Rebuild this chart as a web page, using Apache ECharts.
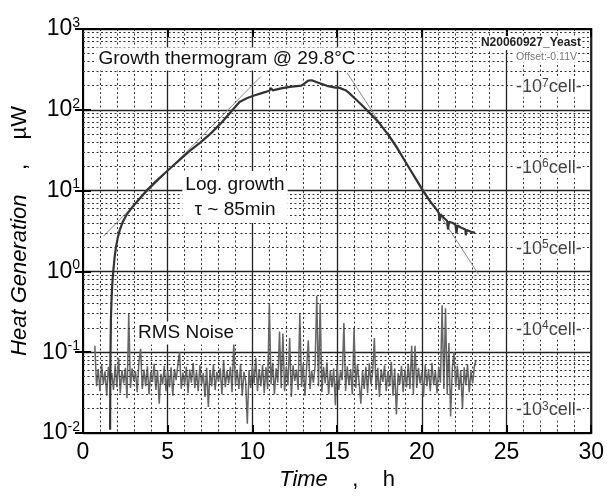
<!DOCTYPE html>
<html>
<head>
<meta charset="utf-8">
<script src="https://cdn.jsdelivr.net/npm/echarts@6/dist/echarts.min.js"></script>
<style>
  html, body { margin: 0; background: #fff; }
  #chart { width: 607px; height: 496px; }
</style>
</head>
<body>
<div id="chart"></div>
<script>
// heat curve [time h, heat µW]
const growthCurve = [
  [1.60, 0.011], [1.62, 0.09], [1.65, 0.26], [1.69, 0.48], [1.73, 0.7], [1.78, 0.97],
  [1.86, 1.45], [1.94, 1.95], [2.05, 2.6], [2.18, 3.3], [2.35, 4.1], [2.57, 5.0],
  [3.0, 6.6], [3.5, 8.7], [3.75, 10], [4.3, 13], [5.1, 18.5], [5.7, 24], [6.3, 31],
  [6.9, 39], [7.5, 50], [8.2, 70], [8.8, 98], [9.24, 125], [9.7, 140], [10.1, 150],
  [10.6, 162], [11.0, 172], [11.1, 186], [11.2, 174], [11.7, 184], [12.2, 192],
  [12.9, 199], [13.1, 214], [13.3, 230], [13.5, 232], [13.9, 216], [14.4, 198],
  [14.9, 188], [15.1, 188], [15.5, 175], [15.7, 162], [16.1, 135], [16.5, 112],
  [17.1, 84], [17.5, 68], [18.06, 48], [18.5, 35], [19.04, 22.6], [19.6, 14.5],
  [20.1, 9.7], [20.5, 7.3], [20.8, 6.1], [21.0, 5.3], [21.05, 4.2], [21.1, 5.1],
  [21.3, 4.6], [21.5, 4.2], [21.55, 3.3], [21.6, 4.1], [21.8, 4.0], [21.98, 3.8],
  [22.05, 3.0], [22.1, 3.7], [22.3, 3.5], [22.57, 3.3], [22.6, 2.8], [22.65, 3.25],
  [22.9, 3.1], [23.15, 3.0]
];

// thin fitted lines
const riseFit = [[1.2, 2.72], [10.5, 258]];
const declineFit = [[15.6, 285], [23.35, 0.92]];

// RMS noise trace, one value every 0.1 h from 0.7 h
const noiseStart = 0.7;
const noiseStep = 0.1;
const noiseValues = [
  0.12, 0.038, 0.062, 0.033, 0.071, 0.04, 0.058, 0.029, 0.066, 0.042,
  0.055, 0.034, 0.069, 0.037, 0.085, 0.031, 0.06, 0.041, 0.064, 0.027,
  0.3, 0.036, 0.063, 0.044, 0.058, 0.032, 0.075, 0.11, 0.035, 0.061,
  0.038, 0.067, 0.03, 0.057, 0.043, 0.072, 0.034, 0.06, 0.023, 0.054,
  0.04, 0.068, 0.033, 0.059, 0.037, 0.065, 0.029, 0.062, 0.045, 0.07,
  0.1, 0.035, 0.056, 0.039, 0.066, 0.031, 0.061, 0.042, 0.074, 0.036,
  0.058, 0.033, 0.069, 0.04, 0.055, 0.028, 0.064, 0.021, 0.06, 0.038,
  0.071, 0.034, 0.057, 0.043, 0.063, 0.03, 0.078, 0.037, 0.059, 0.041,
  0.066, 0.032, 0.13, 0.039, 0.061, 0.035, 0.072, 0.029, 0.057, 0.044,
  0.013, 0.06, 0.036, 0.068, 0.041, 0.085, 0.033, 0.062, 0.038, 0.07,
  0.031, 0.065, 0.035, 0.4, 0.04, 0.074, 0.03, 0.063, 0.042, 0.18,
  0.036, 0.17, 0.033, 0.066, 0.039, 0.15, 0.028, 0.069, 0.044, 0.061,
  0.034, 0.3, 0.037, 0.072, 0.029, 0.064, 0.14, 0.035, 0.059, 0.042,
  0.068, 0.5, 0.038, 0.4, 0.032, 0.066, 0.041, 0.075, 0.03, 0.06,
  0.037, 0.063, 0.022, 0.07, 0.034, 0.058, 0.045, 0.23, 0.033, 0.067,
  0.039, 0.062, 0.03, 0.2, 0.036, 0.071, 0.042, 0.023, 0.059, 0.035,
  0.066, 0.031, 0.073, 0.04, 0.057, 0.15, 0.034, 0.064, 0.028, 0.061,
  0.043, 0.069, 0.033, 0.058, 0.038, 0.076, 0.029, 0.063, 0.017, 0.055,
  0.04, 0.068, 0.032, 0.061, 0.037, 0.072, 0.035, 0.12, 0.03, 0.12,
  0.036, 0.064, 0.041, 0.057, 0.028, 0.07, 0.038, 0.062, 0.033, 0.074,
  0.039, 0.059, 0.031, 0.066, 0.042, 0.38, 0.035, 0.35, 0.03, 0.13,
  0.016, 0.063, 0.1, 0.037, 0.068, 0.034, 0.06, 0.02, 0.065, 0.039,
  0.071, 0.032, 0.058, 0.041, 0.066, 0.08
];

// cell count scale on the right (µW per cell)
const cellCounts = [1e3, 1e4, 1e5, 1e6, 1e7];
const wattPerCell = 1.9e-5;
const cellLabelTime = 27.5;

const FONT = '"Liberation Sans", Arial, sans-serif';

const noiseData = noiseValues.map((v, i) => [+(noiseStart + i * noiseStep).toFixed(2), v]);
const cellData = cellCounts.map(c => [cellLabelTime, c * wattPerCell, Math.round(Math.log10(c))]);

// dotted minor grid at 2..9 of each decade
const minorGrid = [];
[0.01, 0.1, 1, 10, 100].forEach(d => {
  for (let k = 2; k <= 9; k++) minorGrid.push({ yAxis: +(d * k).toPrecision(3) });
});

const dotted = { type: [2, 2.5], color: '#333', width: 1 };
const major = { type: 'solid', color: '#222', width: 1.3 };

const chart = echarts.init(document.getElementById('chart'));

chart.setOption({
  animation: false,
  backgroundColor: '#fff',
  grid: { left: 83, right: 14, top: 29, bottom: 59, show: true, borderColor: '#000', borderWidth: 2 },
  xAxis: [{
    type: 'value', min: 0, max: 30, interval: 5,
    axisLine: { lineStyle: { color: '#000', width: 2 } },
    axisTick: { inside: true, length: 8, lineStyle: { color: '#000', width: 2 } },
    axisLabel: { fontFamily: FONT, fontSize: 23, color: '#000', margin: 8 },
    splitLine: { show: true, lineStyle: major },
    minorTick: { show: false, splitNumber: 5 },
    minorSplitLine: { show: true, lineStyle: dotted },
    name: '{i|Time}    ,    {n|h}',
    nameLocation: 'middle', nameGap: 36,
    nameTextStyle: {
      rich: {
        i: { fontFamily: FONT, fontSize: 22, fontStyle: 'italic', color: '#000' },
        n: { fontFamily: FONT, fontSize: 22, color: '#000' }
      },
      fontFamily: FONT, fontSize: 22, color: '#000'
    }
  }, {
    type: 'value', min: 0, max: 30, interval: 5, position: 'top',
    axisLine: { lineStyle: { color: '#000', width: 2 } },
    axisTick: { inside: true, length: 8, lineStyle: { color: '#000', width: 2 } },
    axisLabel: { show: false },
    splitLine: { show: false }
  }],
  yAxis: [{
    type: 'log', logBase: 10, min: 0.01, max: 1000,
    axisLine: { show: true, lineStyle: { color: '#000', width: 2 } },
    axisTick: { show: true, inside: true, length: 8, lineStyle: { color: '#000', width: 2 } },
    axisLabel: {
      margin: 3,
      formatter: v => '{b|10}{s|' + Math.round(Math.log10(v)) + '}',
      rich: {
        b: { fontFamily: FONT, fontSize: 23, color: '#000', lineHeight: 26 },
        s: { fontFamily: FONT, fontSize: 14, color: '#000', verticalAlign: 'top' }
      }
    },
    splitLine: { show: true, lineStyle: major },
    name: '{i|Heat Generation}    ,    {n|µW}',
    nameLocation: 'middle', nameGap: 50, nameRotate: 90,
    nameTextStyle: {
      rich: {
        i: { fontFamily: FONT, fontSize: 22, fontStyle: 'italic', color: '#000' },
        n: { fontFamily: FONT, fontSize: 22, color: '#000' }
      },
      fontFamily: FONT, fontSize: 22, color: '#000'
    }
  }, {
    type: 'log', logBase: 10, min: 0.01, max: 1000, position: 'right',
    axisLine: { show: true, lineStyle: { color: '#000', width: 2 } },
    axisTick: { show: true, inside: true, length: 8, lineStyle: { color: '#000', width: 2 } },
    axisLabel: { show: false },
    splitLine: { show: false }
  }],
  series: [
    {
      type: 'line', data: riseFit, showSymbol: false, silent: true,
      lineStyle: { color: '#8c8c8c', width: 1 },
      markLine: {
        silent: true, symbol: ['none', 'none'], label: { show: false },
        lineStyle: dotted, data: minorGrid
      }
    },
    {
      type: 'line', data: declineFit, showSymbol: false, silent: true,
      lineStyle: { color: '#8c8c8c', width: 1 }
    },
    {
      type: 'line', data: noiseData, showSymbol: false, silent: true,
      lineStyle: { color: '#666', width: 1.5 }
    },
    {
      type: 'line', data: growthCurve, showSymbol: false, silent: true,
      lineStyle: { color: '#333', width: 2.2 }, z: 4
    },
    {
      type: 'scatter', data: cellData, symbolSize: 0, silent: true, z: 6,
      label: {
        show: true, position: 'inside', backgroundColor: '#fff', padding: [0, 1],
        formatter: p => '{b|-10}{s|' + p.data[2] + '}{b|cell-}',
        rich: {
          b: { fontFamily: FONT, fontSize: 18, color: '#111', lineHeight: 20 },
          s: { fontFamily: FONT, fontSize: 12, color: '#111', verticalAlign: 'top' }
        }
      }
    }
  ],
  graphic: [
    {
      type: 'text', x: 227, y: 59, z: 100,
      style: {
        text: 'Growth thermogram @ 29.8°C', font: '19px ' + FONT, fill: '#111',
        align: 'center', verticalAlign: 'middle', backgroundColor: '#fff', padding: [2, 2]
      }
    },
    {
      type: 'text', x: 582, y: 43, z: 100,
      style: {
        text: 'N20060927_Yeast', font: 'bold 12px ' + FONT, fill: '#222',
        align: 'right', verticalAlign: 'middle', backgroundColor: '#fff', padding: [1, 1]
      }
    },
    {
      type: 'text', x: 578, y: 57, z: 100,
      style: {
        text: 'Offset:-0.11V', font: '10.5px ' + FONT, fill: '#777',
        align: 'right', verticalAlign: 'middle', backgroundColor: '#fff', padding: [0, 1]
      }
    },
    {
      type: 'text', x: 235, y: 197, z: 100,
      style: {
        text: 'Log. growth\nτ ~ 85min', font: '19px ' + FONT, fill: '#111', lineHeight: 25,
        align: 'center', verticalAlign: 'middle', backgroundColor: '#fff', padding: [1, 3]
      }
    },
    {
      type: 'text', x: 186, y: 333, z: 100,
      style: {
        text: 'RMS Noise', font: '19px ' + FONT, fill: '#111',
        align: 'center', verticalAlign: 'middle', backgroundColor: '#fff', padding: [2, 2]
      }
    }
  ]
});
</script>
</body>
</html>
